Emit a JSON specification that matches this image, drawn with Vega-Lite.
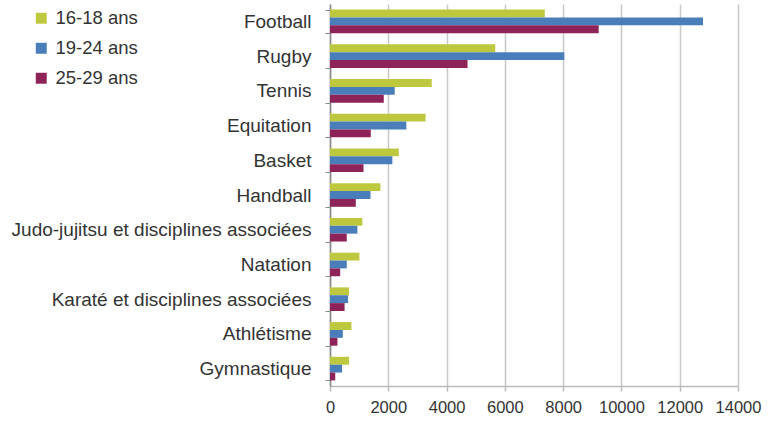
{
  "$schema": "https://vega.github.io/schema/vega-lite/v6.json",
  "autosize": "none",
  "width": 408,
  "height": 382,
  "padding": {"left": 330, "top": 4, "right": 39, "bottom": 35},
  "background": "white",
  "data": {
    "values": [
      {"sport": "Football", "age": "16-18 ans", "n": 7370},
      {"sport": "Football", "age": "19-24 ans", "n": 12800},
      {"sport": "Football", "age": "25-29 ans", "n": 9220},
      {"sport": "Rugby", "age": "16-18 ans", "n": 5670},
      {"sport": "Rugby", "age": "19-24 ans", "n": 8040},
      {"sport": "Rugby", "age": "25-29 ans", "n": 4720},
      {"sport": "Tennis", "age": "16-18 ans", "n": 3490},
      {"sport": "Tennis", "age": "19-24 ans", "n": 2220},
      {"sport": "Tennis", "age": "25-29 ans", "n": 1845},
      {"sport": "Equitation", "age": "16-18 ans", "n": 3280},
      {"sport": "Equitation", "age": "19-24 ans", "n": 2620},
      {"sport": "Equitation", "age": "25-29 ans", "n": 1400},
      {"sport": "Basket", "age": "16-18 ans", "n": 2360},
      {"sport": "Basket", "age": "19-24 ans", "n": 2140},
      {"sport": "Basket", "age": "25-29 ans", "n": 1150},
      {"sport": "Handball", "age": "16-18 ans", "n": 1730},
      {"sport": "Handball", "age": "19-24 ans", "n": 1390},
      {"sport": "Handball", "age": "25-29 ans", "n": 885},
      {"sport": "Judo-jujitsu et disciplines associées", "age": "16-18 ans", "n": 1110},
      {"sport": "Judo-jujitsu et disciplines associées", "age": "19-24 ans", "n": 940},
      {"sport": "Judo-jujitsu et disciplines associées", "age": "25-29 ans", "n": 575},
      {"sport": "Natation", "age": "16-18 ans", "n": 1010},
      {"sport": "Natation", "age": "19-24 ans", "n": 575},
      {"sport": "Natation", "age": "25-29 ans", "n": 350},
      {"sport": "Karaté et disciplines associées", "age": "16-18 ans", "n": 655},
      {"sport": "Karaté et disciplines associées", "age": "19-24 ans", "n": 620},
      {"sport": "Karaté et disciplines associées", "age": "25-29 ans", "n": 500},
      {"sport": "Athlétisme", "age": "16-18 ans", "n": 735},
      {"sport": "Athlétisme", "age": "19-24 ans", "n": 440},
      {"sport": "Athlétisme", "age": "25-29 ans", "n": 255},
      {"sport": "Gymnastique", "age": "16-18 ans", "n": 655},
      {"sport": "Gymnastique", "age": "19-24 ans", "n": 415},
      {"sport": "Gymnastique", "age": "25-29 ans", "n": 180}
    ]
  },
  "mark": {"type": "bar"},
  "encoding": {
    "y": {
      "field": "sport",
      "type": "nominal",
      "sort": null,
      "scale": {"paddingInner": 0.32, "paddingOuter": 0.16},
      "axis": {
        "title": null,
        "labelFont": "Liberation Sans",
        "labelFontSize": 19,
        "labelColor": "#333333",
        "labelPadding": 14,
        "labelLimit": 400,
        "domainColor": "#888888",
        "domainWidth": 1.5,
        "tickColor": "#888888",
        "tickSize": 5,
        "tickBand": "extent",
        "grid": false
      }
    },
    "yOffset": {"field": "age", "type": "nominal", "sort": ["16-18 ans", "19-24 ans", "25-29 ans"]},
    "x": {
      "field": "n",
      "type": "quantitative",
      "scale": {"domain": [0, 14000], "nice": false},
      "axis": {
        "title": null,
        "values": [0, 2000, 4000, 6000, 8000, 10000, 12000, 14000],
        "format": "d",
        "labelOverlap": false,
        "labelFlush": false,
        "labelFont": "Liberation Sans",
        "labelFontSize": 16.5,
        "labelColor": "#333333",
        "labelPadding": 8,
        "domainColor": "#bbbbbb",
        "domainWidth": 1.5,
        "tickColor": "#bbbbbb",
        "tickSize": 5,
        "tickWidth": 1.5,
        "gridColor": "#c8c8c8",
        "gridWidth": 1.5
      }
    },
    "color": {
      "field": "age",
      "type": "nominal",
      "scale": {"domain": ["16-18 ans", "19-24 ans", "25-29 ans"], "range": ["#bec83f", "#4a7ebb", "#8e2359"]},
      "legend": {
        "title": null,
        "orient": "none",
        "legendX": -298,
        "legendY": 5,
        "symbolType": "square",
        "symbolSize": 120,
        "symbolStrokeWidth": 0,
        "labelFont": "Liberation Sans",
        "labelFontSize": 18.5,
        "labelColor": "#333333",
        "rowPadding": 11,
        "labelOffset": 5
      }
    }
  },
  "config": {"view": {"stroke": null}}
}
